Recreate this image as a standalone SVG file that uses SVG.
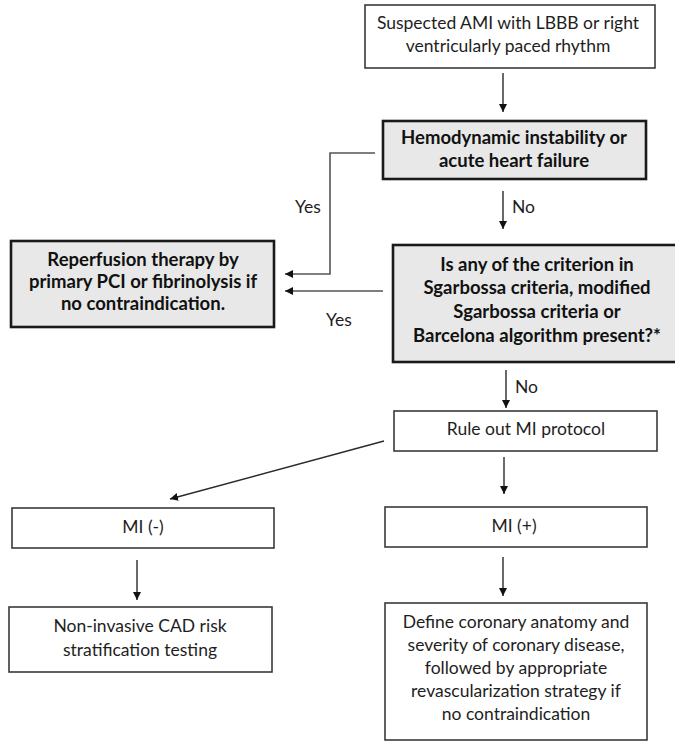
<svg xmlns="http://www.w3.org/2000/svg" width="675" height="742" viewBox="0 0 675 742">
<style>
.box{fill:#ffffff;stroke:#3a3a3a;stroke-width:1.6}
.gbox{fill:#e8e8e8;stroke:#1a1a1a;stroke-width:2.6}
.t{font-family:Lato,"Open Sans","Liberation Sans",sans-serif;font-size:17.5px;fill:#1e1e1e;text-anchor:middle}
.b{font-weight:bold;fill:#111;font-size:18.5px}
.lbl{font-family:Lato,"Open Sans","Liberation Sans",sans-serif;font-size:17.5px;fill:#1e1e1e}
.c{fill:none;stroke:#2a2a2a;stroke-width:1.4}
.cg{fill:none;stroke:#555;stroke-width:1.6}
</style>
<defs>
<marker id="ah" viewBox="0 0 10 10" refX="10" refY="5" markerWidth="8" markerHeight="8" markerUnits="userSpaceOnUse" orient="auto">
<path d="M0,0 L10,5 L0,10 Z" fill="#111"/>
</marker>
</defs>
<rect width="675" height="742" fill="#ffffff"/>
<g id="connectors">
<line class="c" x1="503" y1="73" x2="503" y2="112" marker-end="url(#ah)"/>
<polyline class="cg" points="375,153 330,153 330,274 285,274" marker-end="url(#ah)"/>
<line class="c" x1="503" y1="191" x2="503" y2="229" marker-end="url(#ah)"/>
<line class="cg" x1="383" y1="291" x2="285" y2="291" marker-end="url(#ah)"/>
<line class="c" x1="506" y1="370" x2="506" y2="408" marker-end="url(#ah)"/>
<line class="c" x1="384" y1="441" x2="170" y2="499" marker-end="url(#ah)"/>
<line class="c" x1="504" y1="457" x2="504" y2="494" marker-end="url(#ah)"/>
<line class="c" x1="137" y1="560" x2="137" y2="600" marker-end="url(#ah)"/>
<line class="c" x1="503" y1="557" x2="503" y2="596" marker-end="url(#ah)"/>
<text class="lbl" x="308" y="213" text-anchor="middle">Yes</text>
<text class="lbl" x="512" y="213">No</text>
<text class="lbl" x="339" y="326" text-anchor="middle">Yes</text>
<text class="lbl" x="515" y="393">No</text>
</g>
<g id="n1">
<rect class="box" x="365" y="5" width="290" height="63"/>
<text class="t" x="508" y="29">Suspected AMI with LBBB or right</text>
<text class="t" x="508" y="52">ventricularly paced rhythm</text>
</g>
<g id="n2">
<rect class="gbox" x="383" y="121" width="263" height="58"/>
<text class="t b" x="514" y="144">Hemodynamic instability or</text>
<text class="t b" x="514" y="167">acute heart failure</text>
</g>
<g id="n3">
<rect class="gbox" x="393" y="245" width="290" height="117"/>
<text class="t b" x="537" y="271">Is any of the criterion in</text>
<text class="t b" x="537" y="294">Sgarbossa criteria, modified</text>
<text class="t b" x="537" y="318">Sgarbossa criteria or</text>
<text class="t b" x="537" y="342">Barcelona algorithm present?*</text>
</g>
<g id="n4">
<rect class="gbox" x="11" y="241" width="263" height="86"/>
<text class="t b" x="143" y="266">Reperfusion therapy by</text>
<text class="t b" x="143" y="288">primary PCI or fibrinolysis if</text>
<text class="t b" x="143" y="310">no contraindication.</text>
</g>
<g id="n5">
<rect class="box" x="394" y="411" width="263" height="40"/>
<text class="t" x="526" y="435">Rule out MI protocol</text>
</g>
<g id="n6">
<rect class="box" x="12" y="508" width="262" height="40"/>
<text class="t" x="143" y="533">MI (-)</text>
</g>
<g id="n7">
<rect class="box" x="385" y="507" width="262" height="40"/>
<text class="t" x="514" y="532">MI (+)</text>
</g>
<g id="n8">
<rect class="box" x="9" y="607" width="263" height="65"/>
<text class="t" x="140" y="632">Non-invasive CAD risk</text>
<text class="t" x="140" y="656">stratification testing</text>
</g>
<g id="n9">
<rect class="box" x="385" y="603" width="262" height="137"/>
<text class="t" x="516" y="628">Define coronary  anatomy and</text>
<text class="t" x="516" y="651">severity of coronary disease,</text>
<text class="t" x="516" y="674">followed by appropriate</text>
<text class="t" x="516" y="697">revascularization strategy if</text>
<text class="t" x="516" y="720">no contraindication</text>
</g>
</svg>
